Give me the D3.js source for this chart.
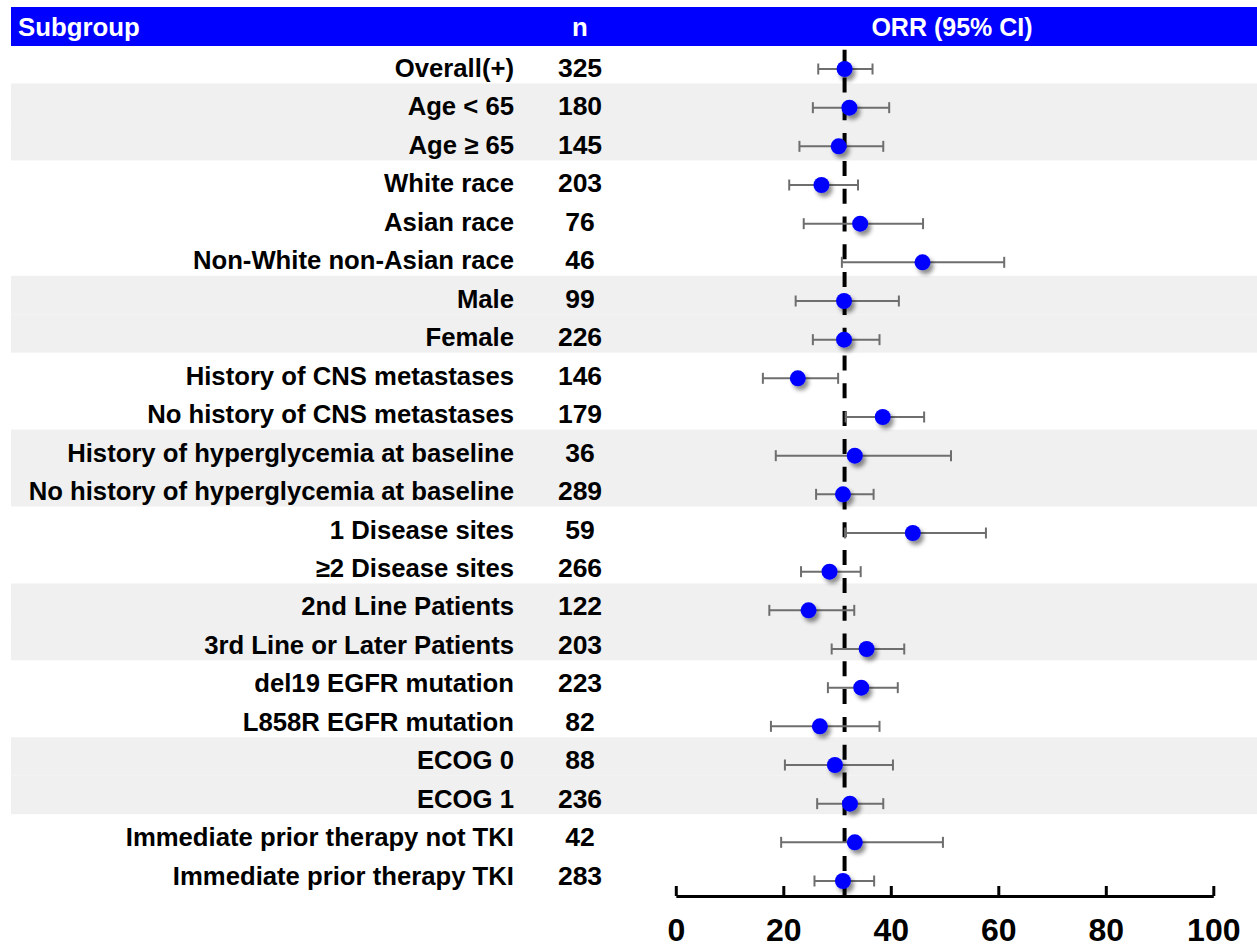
<!DOCTYPE html>
<html>
<head>
<meta charset="utf-8">
<script src="https://cdn.jsdelivr.net/npm/d3@7"></script>
<style>
  body { margin: 0; background: #fff; }
  svg { display: block; font-family: "Liberation Sans", Arial, sans-serif; font-weight: bold; }
</style>
</head>
<body>
<svg id="chart" width="1257" height="950"></svg>
<script>
// Subgroup table with objective response rate and 95% CI per subgroup
const subgroups = [
  "Overall(+)", "Age < 65", "Age \u2265 65", "White race", "Asian race",
  "Non-White non-Asian race", "Male", "Female", "History of CNS metastases",
  "No history of CNS metastases", "History of hyperglycemia at baseline",
  "No history of hyperglycemia at baseline", "1 Disease sites", "\u22652 Disease sites",
  "2nd Line Patients", "3rd Line or Later Patients", "del19 EGFR mutation",
  "L858R EGFR mutation", "ECOG 0", "ECOG 1", "Immediate prior therapy not TKI",
  "Immediate prior therapy TKI"
];
const nValues = [325, 180, 145, 203, 76, 46, 99, 226, 146, 179, 36, 289, 59, 266, 122, 203, 223, 82, 88, 236, 42, 283];
const orr    = [31.4, 32.3, 30.3, 27.1, 34.3, 45.9, 31.3, 31.3, 22.7, 38.5, 33.3, 31.1, 44.1, 28.6, 24.7, 35.5, 34.5, 26.8, 29.6, 32.4, 33.3, 31.1];
const ciLow  = [26.5, 25.5, 23.0, 21.1, 23.8, 30.9, 22.3, 25.5, 16.2, 31.6, 18.6, 26.1, 31.5, 23.3, 17.4, 29.0, 28.3, 17.7, 20.3, 26.3, 19.6, 25.8];
const ciHigh = [36.6, 39.7, 38.6, 33.9, 46.0, 61.1, 41.5, 37.9, 30.2, 46.2, 51.2, 36.8, 57.7, 34.4, 33.2, 42.5, 41.3, 37.9, 40.4, 38.6, 49.7, 36.9];
const shadedGroups = [["Age < 65", "Age \u2265 65"], ["Male", "Female"],
  ["History of hyperglycemia at baseline", "No history of hyperglycemia at baseline"],
  ["2nd Line Patients", "3rd Line or Later Patients"], ["ECOG 0", "ECOG 1"]];
const tickValues = [0, 20, 40, 60, 80, 100];
const referenceOrr = 31.4;
const headers = { subgroup: "Subgroup", n: "n", orr: "ORR (95% CI)" };

const rows = subgroups.map((s, i) => ({ label: s, n: nValues[i], orr: orr[i], lo: ciLow[i], hi: ciHigh[i] }));
const shaded = new Set(shadedGroups.flat());

const svg = d3.select("#chart");
const tableLeft = 11, tableRight = 1257;
const headerTop = 7, headerBottom = 46;
const labelX = 514, nX = 580;

const yBand = d3.scaleBand().domain(subgroups).range([45, 45 + 22 * 38.46]).padding(0);
const yMark = d3.scalePoint().domain(subgroups).range([69, 881]);
const x = d3.scaleLinear().domain([0, 100]).range([675.8, 1213.3]);

// drop shadow for the point markers
const defs = svg.append("defs");
const f = defs.append("filter").attr("id", "shadow").attr("x", "-60%").attr("y", "-60%").attr("width", "250%").attr("height", "250%");
f.append("feGaussianBlur").attr("in", "SourceAlpha").attr("stdDeviation", 2.2).attr("result", "blur");
f.append("feOffset").attr("in", "blur").attr("dx", 3).attr("dy", 4).attr("result", "off");
f.append("feFlood").attr("flood-color", "#000").attr("flood-opacity", 0.45).attr("result", "col");
f.append("feComposite").attr("in", "col").attr("in2", "off").attr("operator", "in").attr("result", "sh");
const m = f.append("feMerge");
m.append("feMergeNode").attr("in", "sh");
m.append("feMergeNode").attr("in", "SourceGraphic");

// alternating row shading
svg.append("g").selectAll("rect")
  .data(rows.filter(d => shaded.has(d.label)))
  .join("rect")
  .attr("x", tableLeft).attr("width", tableRight - tableLeft)
  .attr("y", d => yBand(d.label)).attr("height", yBand.bandwidth())
  .attr("fill", "#f0f0f0");

// header bar
svg.append("rect").attr("x", tableLeft).attr("y", headerTop)
  .attr("width", tableRight - tableLeft).attr("height", headerBottom - headerTop)
  .attr("fill", "#0000ff");
const hdr = svg.append("g").attr("fill", "#fff").style("font-size", "25.8px");
hdr.append("text").attr("x", 18).attr("y", 36).text(headers.subgroup);
hdr.append("text").attr("x", nX).attr("y", 36).attr("text-anchor", "middle").text(headers.n);
hdr.append("text").attr("x", 952).attr("y", 36).attr("text-anchor", "middle").style("font-size", "25px").text(headers.orr);

// subgroup labels and counts
const lab = svg.append("g").style("font-size", "25.7px").attr("fill", "#000");
lab.selectAll("text.lbl").data(rows).join("text").attr("class", "lbl")
  .attr("x", labelX).attr("y", d => yBand(d.label) + 32)
  .attr("text-anchor", "end").text(d => d.label);
lab.selectAll("text.n").data(rows).join("text").attr("class", "n")
  .attr("x", nX).attr("y", d => yBand(d.label) + 32)
  .attr("text-anchor", "middle").style("font-size", "26.5px").text(d => d.n);

// reference line at the overall response rate
svg.append("line")
  .attr("x1", x(referenceOrr)).attr("x2", x(referenceOrr))
  .attr("y1", 49.7).attr("y2", 896)
  .attr("stroke", "#000").attr("stroke-width", 4).attr("stroke-dasharray", "15,12.8");

// confidence intervals
const ci = svg.append("g").attr("stroke", "#6e6e6e").attr("stroke-width", 2);
ci.selectAll("line.bar").data(rows).join("line").attr("class", "bar")
  .attr("x1", d => x(d.lo)).attr("x2", d => x(d.hi))
  .attr("y1", d => yMark(d.label)).attr("y2", d => yMark(d.label));
ci.selectAll("line.capL").data(rows).join("line").attr("class", "capL")
  .attr("x1", d => x(d.lo)).attr("x2", d => x(d.lo))
  .attr("y1", d => yMark(d.label) - 5.5).attr("y2", d => yMark(d.label) + 5.5);
ci.selectAll("line.capR").data(rows).join("line").attr("class", "capR")
  .attr("x1", d => x(d.hi)).attr("x2", d => x(d.hi))
  .attr("y1", d => yMark(d.label) - 5.5).attr("y2", d => yMark(d.label) + 5.5);

// point estimates
svg.append("g").selectAll("circle").data(rows).join("circle")
  .attr("cx", d => x(d.orr)).attr("cy", d => yMark(d.label)).attr("r", 8)
  .attr("fill", "#0000ff").attr("filter", "url(#shadow)");

// x axis with upward ticks
const axis = d3.axisBottom(x).tickValues(tickValues).tickSizeInner(-10).tickSizeOuter(0).tickPadding(22);
const ax = svg.append("g").attr("transform", "translate(0,896)").call(axis);
ax.select(".domain").attr("stroke", "#000").attr("stroke-width", 3);
ax.selectAll(".tick line").attr("stroke", "#000").attr("stroke-width", 3);
ax.selectAll(".tick text").attr("fill", "#000")
  .style("font-size", "32px").style("font-weight", "bold")
  .style("font-family", "'Liberation Sans', Arial, sans-serif");
</script>
</body>
</html>
